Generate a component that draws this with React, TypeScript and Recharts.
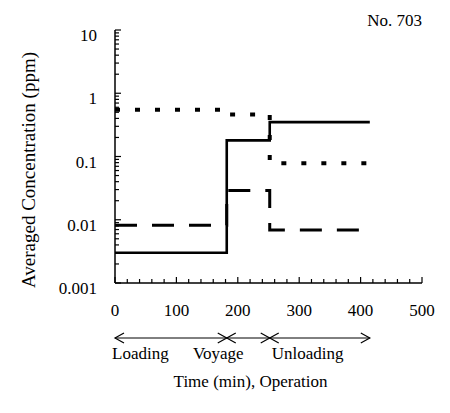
import { LineChart, Line, XAxis, YAxis, Label } from "recharts";

// step boundaries (min) and averaged concentrations (ppm)
const times = [0, 182, 252, 415];
const solidVals = [0.003, 0.18, 0.35, 0.35];
const dottedVals = [0.55, 0.46, 0.078, 0.078];
const dashedVals = [0.0082, 0.029, 0.0069, 0.0069];

const phases = ["Loading", "Voyage", "Unloading"];
const xMajor = [0, 100, 200, 300, 400, 500];
const yMajor = [0.001, 0.01, 0.1, 1, 10];
const yMinorMult = [2, 3, 4, 5, 6, 7, 8, 9];

const data = times.map((t, i) => ({
  t,
  solid: solidVals[i],
  dotted: dottedVals[i],
  dashed: dashedVals[i],
}));

const xTicks: number[] = [];
for (let v = 0; v <= 500; v += 20) xTicks.push(v);

const yTicks: number[] = [];
yMajor.forEach((m, i) => {
  yTicks.push(m);
  if (i < yMajor.length - 1) yMinorMult.forEach((k) => yTicks.push(+(m * k).toPrecision(3)));
});

const FONT = "'Liberation Serif', 'Times New Roman', serif";

const XTick = (props: any) => {
  const { x, y, payload } = props;
  const major = xMajor.includes(payload.value);
  return (
    <g>
      <line x1={x} x2={x} y1={y} y2={y - (major ? 6 : 4)} stroke="#000" strokeWidth={1.2} />
      {major && (
        <text x={x} y={y + 33} textAnchor="middle" fontSize={17} fontFamily={FONT} fill="#000">
          {payload.value}
        </text>
      )}
    </g>
  );
};

const YTick = (props: any) => {
  const { x, y, payload } = props;
  const major = yMajor.includes(payload.value);
  return (
    <g>
      <line x1={x} x2={x + (major ? 6 : 4)} y1={y} y2={y} stroke="#000" strokeWidth={1.2} />
      {major && (
        <text x={x - 18} y={y + 11} textAnchor="end" fontSize={17} fontFamily={FONT} fill="#000">
          {String(payload.value)}
        </text>
      )}
    </g>
  );
};

const PhaseAnnot = (props: any) => {
  const vb = props.viewBox;
  if (!vb) return null;
  const sx = (t: number) => vb.x + (t / 500) * vb.width;
  const ay = vb.y + 55;
  const bounds = times; // 0, 182, 252, 415
  const head = (x: number, dir: number) => (
    <polyline
      points={`${x + dir * 9},${ay - 5} ${x},${ay} ${x + dir * 9},${ay + 5}`}
      fill="none"
      stroke="#000"
      strokeWidth={1.2}
    />
  );
  const segs = [];
  for (let i = 0; i < 3; i++) {
    const a = sx(bounds[i]);
    const b = sx(bounds[i + 1]);
    segs.push(
      <g key={i}>
        <line x1={a} x2={b} y1={ay} y2={ay} stroke="#000" strokeWidth={1} />
        {head(a, 1)}
        {head(b, -1)}
      </g>
    );
  }
  const ly = ay + 21;
  return (
    <g fontFamily={FONT} fontSize={17} fill="#000">
      {segs}
      <text x={sx(bounds[0]) - 3} y={ly} textAnchor="start">{phases[0]}</text>
      <text x={(sx(bounds[1]) + sx(bounds[2])) / 2 - 30} y={ly} textAnchor="middle">{phases[1]}</text>
      <text x={sx(bounds[2]) + 2} y={ly} textAnchor="start">{phases[2]}</text>
      <text x={vb.x + vb.width / 2 - 18} y={vb.y + 104} textAnchor="middle">Time (min), Operation</text>
    </g>
  );
};

const YTitle = (props: any) => {
  const vb = props.viewBox;
  if (!vb) return null;
  const cx = vb.x + 28;
  const cy = vb.y + 140;
  return (
    <text
      x={cx}
      y={cy}
      transform={`rotate(-90 ${cx} ${cy})`}
      textAnchor="middle"
      dominantBaseline="central"
      fontSize={19}
      fontFamily={FONT}
      fill="#000"
    >
      Averaged Concentration (ppm)
    </text>
  );
};

export default function App() {
  return (
    <div style={{ position: "relative", width: 450, height: 413, background: "#fff", fontFamily: FONT }}>
      <style>{"body{margin:0}"}</style>
      <LineChart width={450} height={413} data={data} margin={{ top: 30, right: 28, bottom: 0, left: 0 }}>
        <XAxis
          dataKey="t"
          type="number"
          domain={[0, 500]}
          ticks={xTicks}
          interval={0}
          height={130}
          tickSize={0}
          tickMargin={0}
          tickLine={false}
          tick={<XTick />}
          axisLine={{ stroke: "#000", strokeWidth: 1.5 }}
        >
          <Label content={<PhaseAnnot />} />
        </XAxis>
        <YAxis
          scale="log"
          domain={[0.001, 10]}
          allowDataOverflow
          ticks={yTicks}
          interval={0}
          width={115}
          tickSize={0}
          tickMargin={0}
          tickLine={false}
          tick={<YTick />}
          axisLine={{ stroke: "#000", strokeWidth: 1.5 }}
        >
          <Label content={<YTitle />} />
        </YAxis>
        <Line
          dataKey="solid"
          type="stepAfter"
          stroke="#000"
          strokeWidth={2.6}
          dot={false}
          isAnimationActive={false}
        />
        <Line
          dataKey="dotted"
          type="stepAfter"
          stroke="#000"
          strokeWidth={4}
          strokeDasharray="5 15"
          dot={false}
          isAnimationActive={false}
        />
        <Line
          dataKey="dashed"
          type="stepAfter"
          stroke="#000"
          strokeWidth={3}
          strokeDasharray="22 15"
          dot={false}
          isAnimationActive={false}
        />
      </LineChart>
      <div
        style={{
          position: "absolute",
          right: 28,
          top: 10,
          fontSize: 17,
          lineHeight: "22px",
          fontFamily: FONT,
          color: "#000",
        }}
      >
        No. 703
      </div>
    </div>
  );
}
